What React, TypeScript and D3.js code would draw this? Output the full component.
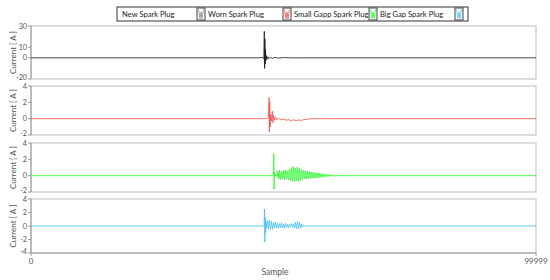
import React from "react";
import { scaleLinear, line } from "d3";

// legend / series names
const seriesNames = ["New Spark Plug", "Worn Spark Plug", "Small Gapp Spark Plug", "Big Gap Spark Plug"];
const seriesColors = ["#1a1a1a", "#ff4a4a", "#22ff22", "#45c0f2"];

const sampleDomain = [0, 99999];
const xTickLabels = ["0", "99999"];
const xTicks = [0, 99999];

const yDomains = [[-20, 30], [-2, 4], [-2, 4], [-4, 4]];
const yTicks = [[30, 10, 0, -20], [4, 2, 0, -2], [4, 2, 0, -2], [4, 2, 0, -2, -4]];

// [sample, current A]
const newPlug: [number, number][] = [
  [0, 0], [45000, 0], [45900, 0.3], [46100, -1], [46200, 25], [46260, -10], [46320, 18], [46380, -6],
  [46440, 8], [46500, -3], [46600, 2], [46700, -1.5], [46900, 1], [47100, -1], [47400, 0.6], [47800, -0.5],
  [48300, 0.4], [49000, -0.3], [50000, 0.2], [52000, -0.1], [54000, 0], [99999, 0],
];

const wornPlug: [number, number][] = [
  [0, 0], [46500, 0], [47000, 0.1], [47150, 2.6], [47200, -1.6], [47280, 2.0], [47350, -1.0], [47450, 0.5],
  [47600, -0.3], [47800, 0.9], [47900, -0.5], [48050, 0.4], [48200, -0.2], [48400, 0.2], [48700, -0.15],
  [49000, 0.05], [49500, -0.15], [50000, -0.05], [50500, -0.2], [51000, -0.1], [51500, -0.25], [52000, -0.12],
  [52500, -0.25], [53000, -0.15], [53500, -0.22], [54000, -0.1], [54500, -0.12], [55000, -0.03], [56000, 0],
  [99999, 0],
];

const smallGap: [number, number][] = [
  [0, 0], [47800, 0], [48000, 0.05], [48080, 2.7], [48130, -1.65], [48200, 0.4], [48300, -0.1], [48500, 0.1],
  [48700, -0.05], [48800, 0.6], [48900, -0.2], [49000, 0.3], [49100, -0.4], [49200, 0.7], [49300, 0.1],
  [49400, -0.5], [49500, 0.3], [49600, 0.5], [49700, -0.1], [49800, -0.4], [49900, 0.4], [50000, 0.6],
  [50100, -0.2], [50200, -0.5], [50300, 0.5], [50400, 0.7], [50500, 0.0], [50600, -0.45], [50700, 0.3],
  [50800, 0.6], [50900, -0.3], [51000, -0.5], [51100, 0.5], [51200, 0.8], [51300, -0.2], [51400, -0.6],
  [51500, 0.6], [51600, 1.0], [51700, -0.3], [51800, -0.7], [51900, 0.7], [52000, 1.1], [52100, -0.2],
  [52200, -0.7], [52300, 0.6], [52400, 0.95], [52500, -0.3], [52600, -0.65], [52700, 0.7], [52800, 1.05],
  [52900, -0.2], [53000, -0.7], [53100, 0.6], [53200, 0.9], [53300, -0.3], [53400, -0.6], [53500, 0.4],
  [53600, 0.7], [53700, -0.2], [53800, -0.45], [53900, 0.5], [54000, 0.65], [54100, -0.1], [54200, -0.4],
  [54300, 0.3], [54400, 0.6], [54500, -0.2], [54600, -0.4], [54700, 0.4], [54800, 0.55], [54900, -0.1],
  [55000, -0.35], [55200, 0.5], [55400, -0.35], [55600, 0.45], [55800, -0.3], [56000, 0.4], [56200, -0.3],
  [56400, 0.35], [56600, -0.25], [56800, 0.35], [57000, -0.25], [57200, 0.3], [57400, -0.2], [57600, 0.25],
  [57800, -0.2], [58000, 0.2], [58200, -0.15], [58400, 0.18], [58600, -0.12], [58800, 0.15], [59000, -0.1],
  [59200, 0.12], [59400, -0.08], [59600, 0.1], [59800, -0.06], [60000, 0.06], [60300, -0.04], [60600, 0.03],
  [61000, 0], [99999, 0],
];

const bigGap: [number, number][] = [
  [0, 0], [46000, 0], [46150, 0.1], [46240, 2.5], [46300, -2.4], [46380, 1.3], [46450, -1.0], [46550, 0.6],
  [46650, -0.3], [46800, 0.8], [47000, -0.4], [47200, 0.9], [47400, -0.6], [47600, 0.7], [47800, -0.5],
  [48000, 0.5], [48200, -0.3], [48400, 0.6], [48600, -0.35], [48800, 0.4], [49000, -0.3], [49200, 0.35],
  [49400, -0.25], [49600, 0.5], [49800, -0.3], [50000, 0.3], [50200, -0.35], [50400, 0.4], [50600, -0.2],
  [50800, 0.25], [51000, -0.3], [51200, 0.3], [51400, -0.15], [51600, 0.35], [51800, -0.2], [52000, 0.3],
  [52200, -0.3], [52400, 0.55], [52600, -0.4], [52800, 0.65], [53000, -0.45], [53200, 0.55], [53400, -0.3],
  [53600, 0.3], [53800, -0.15], [54000, 0.1], [54300, -0.05], [54800, 0.02], [55500, 0], [99999, 0],
];

const allSeries = [newPlug, wornPlug, smallGap, bigGap];

const left = 31;
const right = 536;
const panelBands = [[26, 79], [86, 135], [143, 192], [199, 253]];
const font = "Lato, 'Open Sans', sans-serif";

export default function App() {
  const x = scaleLinear().domain(sampleDomain).range([left, right]);

  // legend, the swatch sits after each label
  const legendX = 117;
  const entryW = 86;

  return (
    <svg width={550} height={280} style={{ position: "absolute", left: 0, top: 0, background: "#fff" }}>
      <g>
        <rect x={legendX} y={7} width={351} height={14} fill="#fff" stroke="#333" strokeWidth={1} />
        {seriesNames.map((name, i) => {
          const ex = legendX + 5 + i * entryW;
          const sx = ex + 75;
          const zig = line()([[sx + 1.5, 9.5], [sx + 3, 18.5], [sx + 4, 12], [sx + 5, 18.5], [sx + 6.5, 9.5]]);
          return (
            <g key={name}>
              <text x={ex} y={17.3} fontSize={7.6} fontFamily={font} fill="#222">{name}</text>
              <rect x={sx} y={8} width={8} height={12} fill="#fff" stroke="#444" strokeWidth={1} />
              <path d={zig || ""} fill="none" stroke={i === 0 ? "#888" : seriesColors[i]} strokeWidth={0.8} />
            </g>
          );
        })}
      </g>

      {allSeries.map((data, i) => {
        const [top, bottom] = panelBands[i];
        const y = scaleLinear().domain(yDomains[i]).range([bottom, top]);
        const path = line<[number, number]>().x(d => x(d[0])).y(d => y(d[1]))(data);
        const mid = (top + bottom) / 2;
        const [lo, hi] = yDomains[i];
        return (
          <g key={i}>
            <rect x={left} y={top} width={right - left} height={bottom - top} fill="none" stroke="#cfcfcf" strokeWidth={1.4} />
            <line x1={left} x2={left} y1={top} y2={bottom} stroke="#9a9a9a" strokeWidth={1} />
            {yTicks[i].map(t => {
              const nudge = t === lo ? -1.2 : t === hi ? 0.8 : 0;
              return (
                <g key={t}>
                  <line x1={left - 3} x2={left} y1={y(t)} y2={y(t)} stroke="#9a9a9a" strokeWidth={1} />
                  <text x={left - 4} y={y(t) + 2.6 + nudge} textAnchor="end" fontSize={7.2} fontFamily={font} fill="#555">{t}</text>
                </g>
              );
            })}
            <path d={path || ""} fill="none" stroke={seriesColors[i]} strokeWidth={0.8} />
            <text
              transform={`translate(16,${mid}) rotate(-90)`}
              textAnchor="middle"
              fontSize={8}
              fontFamily={font}
              fill="#555"
            >
              Current [ A ]
            </text>
          </g>
        );
      })}

      <line x1={left} x2={right} y1={253} y2={253} stroke="#9a9a9a" strokeWidth={1} />
      {xTicks.map((t, i) => (
        <g key={t}>
          <line x1={x(t)} x2={x(t)} y1={253} y2={256} stroke="#9a9a9a" strokeWidth={1} />
          <text x={x(t)} y={264} textAnchor="middle" fontSize={8} fontFamily={font} fill="#555">{xTickLabels[i]}</text>
        </g>
      ))}
      <text x={275} y={275} textAnchor="middle" fontSize={8.5} fontFamily={font} fill="#555">Sample</text>
    </svg>
  );
}
